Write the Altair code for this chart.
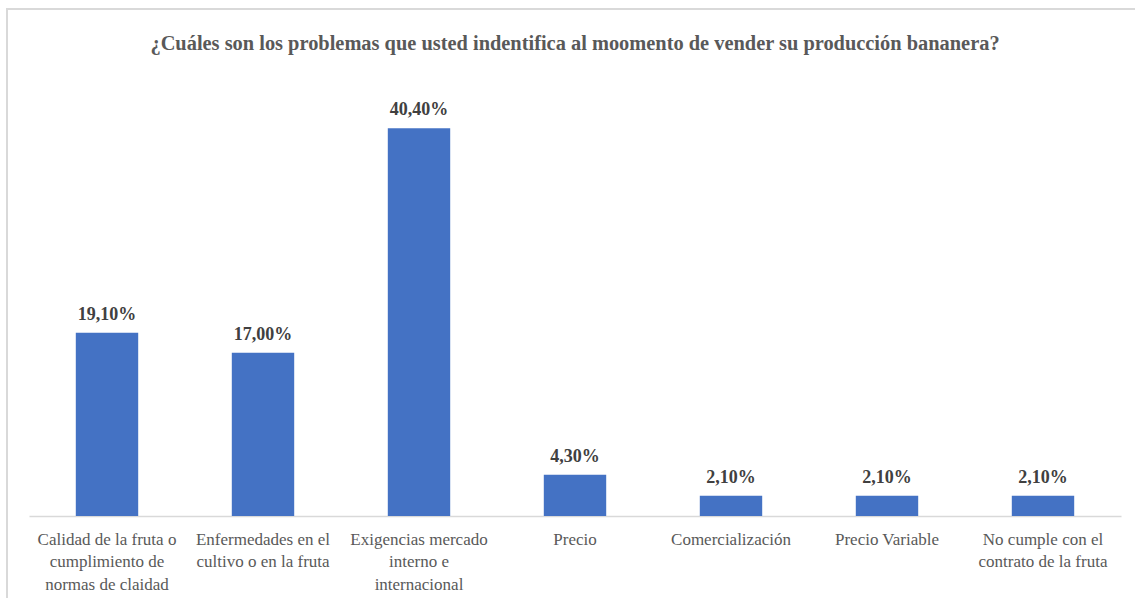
import altair as alt
import pandas as pd

categories = [
    "Calidad de la fruta o|cumplimiento de|normas de claidad",
    "Enfermedades en el|cultivo o en la fruta",
    "Exigencias mercado|interno e|internacional",
    "Precio",
    "Comercialización",
    "Precio Variable",
    "No cumple con el|contrato de la fruta",
]
values = [19.1, 17.0, 40.4, 4.3, 2.1, 2.1, 2.1]

df = pd.DataFrame({"cat": categories, "value": values})

FONT = "Liberation Serif"

base = alt.Chart(df).encode(
    x=alt.X(
        "cat:N",
        sort=None,
        title=None,
        scale=alt.Scale(paddingInner=0.6, paddingOuter=0.3),
        axis=alt.Axis(
            labelExpr="split(datum.label, '|')",
            labelAngle=0,
            labelFont=FONT,
            labelFontSize=17,
            labelColor="#595959",
            labelLineHeight=22.5,
            labelPadding=15,
            labelLimit=0,
            ticks=False,
            domainColor="#d9d9d9",
            domainWidth=1.5,
            grid=False,
        ),
    ),
    y=alt.Y("value:Q", scale=alt.Scale(domain=[0, 45]), axis=None),
)

bars = base.mark_bar(color="#4472C4")
text = base.transform_calculate(
    lbl="replace(format(datum.value, '.2f'), '.', ',') + '%'"
).mark_text(
    font=FONT, fontSize=18, fontWeight="bold", color="#404040", dy=-13, baseline="alphabetic"
).encode(text="lbl:N")

border = alt.Chart(pd.DataFrame({"a": [0]})).mark_rect(
    fill=None, stroke="#d9d9d9", strokeWidth=2
).encode(
    x=alt.value(-22), x2=alt.value(1125), y=alt.value(-75), y2=alt.value(600)
)

chart = alt.layer(border, bars, text).properties(
    width=1092,
    height=432,
    background="white",
    title=alt.TitleParams(
        "¿Cuáles son los problemas que usted indentifica al moomento de vender su producción bananera?",
        font=FONT,
        fontSize=20.4,
        fontWeight="bold",
        color="#595959",
        anchor="middle",
        offset=-46,
    ),
    autosize=alt.AutoSizeParams(type="none"),
    padding={"left": 29, "top": 84, "right": 14, "bottom": 82},
).configure_view(strokeWidth=0, stroke=None)

chart.save("out.html", embed_options={"renderer": "svg", "actions": False})
